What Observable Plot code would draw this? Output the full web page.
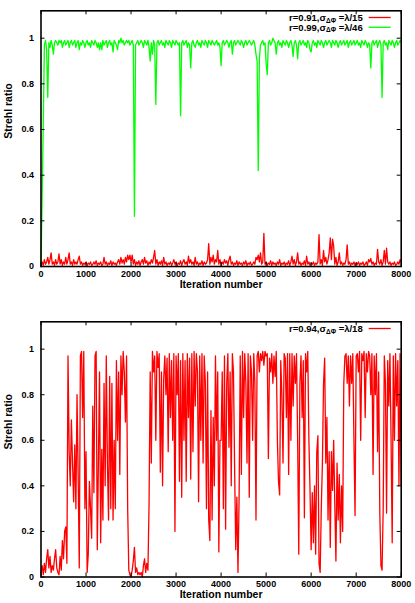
<!DOCTYPE html>
<html><head><meta charset="utf-8">
<script src="https://cdn.jsdelivr.net/npm/d3@7"></script>
<script src="https://cdn.jsdelivr.net/npm/@observablehq/plot@0.6"></script>
<style>
body{margin:0;background:#fff}
#chart{width:415px}
#chart svg{display:block}
</style>
</head><body><div id="chart"></div>
<script>
// Iterations are sampled every 25 steps from 0 to 8000
const step = 25;
const xTicks = [0, 1000, 2000, 3000, 4000, 5000, 6000, 7000, 8000];
const yTicks = [0, 0.2, 0.4, 0.6, 0.8, 1];

// Top panel, r=0.91 (red)
const strehlR091 = [
0.0,0.02,0.005,0.03,0.01,0.02,0.04,0.01,0.03,0.06,0.01,0.02,0.005,0.03,0.01,0.02,0.055,0.01,0.03,0.005,0.02,0.01,0.04,0.01,0.03,0.06,0.01,0.02,0.005,0.03,0.01,0.02,0.01,0.03,0.045,0.01,0.02,0.005,0.015,0.01,
0.02,0.005,0.015,0.01,0.02,0.005,0.01,0.02,0.01,0.025,0.005,0.015,0.01,0.02,0.005,0.01,0.04,0.01,0.02,0.005,0.015,0.01,0.025,0.005,0.02,0.01,0.015,0.005,0.02,0.03,0.01,0.04,0.015,0.03,0.01,0.04,0.02,0.05,0.03,0.05,
0.02,0.05,0.01,0.03,0.005,0.02,0.01,0.025,0.005,0.02,0.03,0.01,0.04,0.015,0.025,0.005,0.02,0.01,0.03,0.015,0.04,0.07,0.01,0.03,0.005,0.02,0.01,0.025,0.005,0.04,0.01,0.02,0.005,0.015,0.01,0.02,0.005,0.015,0.03,0.01,
0.02,0.005,0.015,0.01,0.025,0.005,0.02,0.03,0.01,0.02,0.005,0.045,0.015,0.03,0.01,0.02,0.005,0.04,0.01,0.02,0.005,0.015,0.01,0.025,0.005,0.02,0.01,0.015,0.03,0.1,0.01,0.04,0.02,0.05,0.01,0.03,0.02,0.07,0.01,0.03,
0.005,0.02,0.01,0.03,0.015,0.025,0.005,0.03,0.045,0.01,0.02,0.005,0.015,0.01,0.025,0.005,0.02,0.01,0.015,0.005,0.02,0.01,0.025,0.005,0.015,0.01,0.02,0.005,0.01,0.02,0.01,0.04,0.03,0.05,0.02,0.06,0.01,0.02,0.145,0.01,
0.02,0.005,0.015,0.01,0.025,0.005,0.02,0.01,0.015,0.005,0.02,0.01,0.03,0.005,0.015,0.01,0.02,0.005,0.015,0.01,0.025,0.005,0.02,0.045,0.01,0.03,0.005,0.02,0.06,0.01,0.02,0.005,0.015,0.01,0.025,0.005,0.045,0.01,0.02,0.005,
0.015,0.01,0.02,0.005,0.015,0.01,0.02,0.14,0.01,0.03,0.005,0.07,0.02,0.04,0.01,0.03,0.06,0.125,0.03,0.12,0.09,0.01,0.04,0.005,0.02,0.06,0.01,0.02,0.005,0.015,0.01,0.03,0.095,0.01,0.02,0.005,0.015,0.01,0.02,0.005,
0.015,0.01,0.02,0.005,0.015,0.01,0.02,0.005,0.01,0.02,0.005,0.03,0.02,0.035,0.01,0.02,0.005,0.015,0.01,0.075,0.02,0.01,0.03,0.005,0.02,0.07,0.01,0.08,0.02,0.01,0.02,0.005,0.015,0.01,0.02,0.005,0.01,0.02,0.01,0.03,0.02
];

// Top panel, r=0.99 (green)
const strehlR099 = [
0.0,0.3,0.62,0.97,0.99,0.95,0.74,0.98,0.96,0.99,0.97,0.93,0.98,0.99,0.98,0.97,0.99,0.98,0.99,0.96,0.98,0.99,0.97,0.98,0.99,0.96,0.98,0.99,0.97,0.98,0.99,0.96,0.98,0.99,0.95,0.98,0.97,0.99,0.98,0.96,
0.98,0.99,0.97,0.98,0.96,0.99,0.98,0.97,0.99,0.98,0.96,0.98,0.95,0.98,0.95,0.99,0.97,0.98,0.99,0.96,0.98,0.99,0.97,0.98,0.94,0.99,0.98,0.97,0.95,0.99,0.98,1.0,0.98,0.99,0.97,0.98,0.99,0.98,0.99,0.97,
0.98,0.99,0.97,0.22,0.97,0.98,0.99,0.97,0.98,0.99,0.98,0.96,0.99,0.98,0.97,0.99,0.96,0.9,0.98,0.93,0.99,0.97,0.71,0.98,0.99,0.97,0.98,0.99,0.97,0.98,0.96,0.99,0.98,0.97,0.99,0.98,0.96,0.99,0.98,0.97,
0.99,0.98,0.97,0.98,0.66,0.98,0.99,0.97,0.98,0.99,0.96,0.98,0.97,0.87,0.98,0.99,0.97,0.96,0.98,0.99,0.97,0.98,0.96,0.99,0.98,0.97,0.99,0.98,0.96,0.99,0.98,0.97,0.99,0.98,0.97,0.98,0.99,0.97,0.98,0.96,
0.88,0.98,0.99,0.97,0.98,0.99,0.98,0.96,0.98,0.99,0.93,0.98,0.99,0.97,0.98,0.99,0.98,0.97,0.99,0.98,0.96,0.98,0.99,0.97,0.98,0.99,0.98,0.97,0.98,0.99,0.97,0.93,0.9,0.42,0.91,0.97,0.98,0.99,0.97,0.98,
0.89,0.84,0.98,0.99,0.97,0.98,1.0,0.99,0.98,0.93,0.98,0.99,0.97,0.98,0.96,0.99,0.98,0.97,0.99,0.98,0.96,0.98,0.99,0.97,0.92,0.98,0.99,0.97,0.91,0.98,0.99,0.97,0.98,0.99,0.97,0.98,0.96,0.99,0.98,0.95,
0.94,0.98,0.99,0.97,0.98,0.96,0.99,0.98,0.97,0.99,0.98,0.96,0.98,0.99,0.97,0.98,0.99,0.98,0.96,0.99,0.98,0.97,0.99,0.98,0.96,0.98,0.99,0.97,0.98,0.99,0.97,0.98,0.99,0.96,0.98,0.99,0.97,0.98,0.99,0.97,
0.98,0.99,0.97,0.98,0.96,0.99,0.98,0.97,0.99,0.98,0.96,0.98,0.97,0.87,0.98,0.99,0.97,0.98,0.99,0.96,0.98,0.99,0.97,0.74,0.98,0.99,0.97,0.98,0.95,0.99,0.98,0.97,0.99,0.98,0.96,0.98,0.99,0.97,0.98,0.99,0.98
];

// Bottom panel, r=0.94 (red)
const strehlR094 = [
0.02,0.05,0.01,0.06,0.02,0.08,0.12,0.04,0.09,0.02,0.05,0.03,0.08,0.12,0.04,0.02,0.01,0.09,0.03,0.16,0.08,0.2,0.22,0.06,0.97,0.55,0.4,0.69,0.5,0.33,0.58,0.3,0.8,0.45,0.04,0.97,0.99,0.7,0.99,0.3,
0.55,0.02,0.1,0.42,0.3,0.17,0.75,0.37,0.97,0.99,0.12,0.5,0.9,0.15,0.56,0.25,0.85,0.4,0.97,0.5,0.25,0.88,0.3,0.85,0.25,0.6,0.3,0.95,0.6,0.9,0.45,0.97,0.8,0.99,0.9,0.68,0.97,0.3,0.03,0.01,
0.0,0.03,0.07,0.13,0.02,0.04,0.01,0.02,0.01,0.02,0.0,0.05,0.08,0.02,0.06,0.03,0.32,0.9,0.5,0.99,0.9,0.97,0.6,0.99,0.92,0.98,0.46,0.9,0.4,0.87,0.97,0.8,0.96,0.55,0.98,0.7,0.95,0.6,0.98,0.2,
0.97,0.8,0.98,0.42,0.95,0.35,0.98,0.6,0.95,0.42,0.98,0.7,0.96,0.43,0.98,0.55,0.99,0.75,0.98,0.9,0.33,0.97,0.6,0.98,0.5,0.97,0.85,0.3,0.9,0.25,0.16,0.73,0.25,0.7,0.4,0.97,0.6,0.9,0.11,0.6,
0.6,0.9,0.3,0.97,0.21,0.85,0.98,0.57,0.9,0.4,0.98,0.9,0.48,0.12,0.35,0.02,0.35,0.97,0.45,0.99,0.7,0.98,0.85,0.5,0.98,0.35,0.97,0.9,0.6,0.98,0.85,0.25,0.97,0.99,0.9,0.98,0.95,0.99,0.93,0.99,
0.97,0.98,0.52,0.96,0.9,0.98,0.85,0.97,0.88,0.99,0.6,0.42,0.36,0.95,0.8,0.5,0.98,0.96,0.7,0.98,0.45,0.98,0.6,0.98,0.75,0.97,0.85,0.98,0.6,0.1,0.85,0.97,0.7,0.95,0.26,0.98,0.9,0.99,0.6,0.38,
0.12,0.37,0.15,0.4,0.1,0.55,0.62,0.06,0.02,0.3,0.5,0.85,0.96,0.5,0.7,0.25,0.55,0.13,0.55,0.38,0.6,0.32,0.07,0.5,0.25,0.45,0.15,0.4,0.2,0.85,0.97,0.98,0.85,0.97,0.75,0.97,0.85,0.98,0.6,0.27,
0.97,0.98,0.9,0.99,0.6,0.98,0.95,0.99,0.7,0.98,0.9,0.99,0.97,0.8,0.98,0.45,0.97,0.8,0.98,0.55,0.9,0.28,0.05,0.03,0.3,0.97,0.85,0.28,0.95,0.75,0.98,0.6,0.15,0.97,0.6,0.98,0.75,0.95,0.4,0.98,0.4
];

const topSeries = [
  {head: "r=0.91,σ", sub: "ΔΦ", tail: " =λ/15", color: "#ff0000", values: strehlR091},
  {head: "r=0.99,σ", sub: "ΔΦ", tail: " =λ/46", color: "#00ff00", values: strehlR099}
];
const bottomSeries = [
  {head: "r=0.94,σ", sub: "ΔΦ", tail: " =λ/18", color: "#ff0000", values: strehlR094}
];

const FONT = "'Liberation Sans', Arial, Helvetica, sans-serif";

function panel(series, height, mt, mb) {
  const W = 415, ml = 40.5, mr = 14.3;
  const fw = W - ml - mr, fh = height - mt - mb;
  const marks = [];
  for (const s of series) {
    marks.push(Plot.line(s.values, {x: (d, i) => i * step, y: d => d, stroke: s.color, strokeWidth: 1.3}));
  }
  marks.push(
    Plot.ruleX(xTicks, {x: d => d, insetTop: fh - 4, stroke: "black", strokeWidth: 1}),
    Plot.ruleX(xTicks, {x: d => d, insetBottom: fh - 4, stroke: "black", strokeWidth: 1}),
    Plot.ruleY(yTicks, {y: d => d, insetRight: fw - 4, stroke: "black", strokeWidth: 1}),
    Plot.ruleY(yTicks, {y: d => d, insetLeft: fw - 4, stroke: "black", strokeWidth: 1}),
    Plot.frame({stroke: "black", strokeWidth: 1.6}),
    Plot.axisX({ticks: xTicks, tickSize: 0, tickPadding: 4, tickFormat: d => String(d), label: null}),
    Plot.axisY({ticks: yTicks, tickSize: 0, tickPadding: 7, tickFormat: d => String(d), label: null}),
    Plot.text(["Iteration number"], {text: d => d, frameAnchor: "bottom", dy: 21, fontSize: 10.5}),
    Plot.text(["Strehl ratio"], {text: d => d, frameAnchor: "left", dx: -32.5, rotate: -90, fontSize: 10.5})
  );
  const svg = Plot.plot({
    width: W, height,
    marginLeft: ml, marginRight: mr, marginTop: mt, marginBottom: mb,
    style: `font: bold 9px ${FONT}; background: white; color: black; overflow: visible;`,
    x: {domain: [0, 8000]},
    y: {domain: [0, 1.12]},
    marks
  });
  const g = d3.select(svg).append("g")
    .attr("font-family", FONT).attr("font-weight", "bold").attr("font-size", 9.5);
  series.forEach((s, k) => {
    const yb = mt + 10.5 + k * 9.8;
    const t = g.append("text").attr("x", ml + fw - 38).attr("y", yb).attr("text-anchor", "end").attr("fill", "black");
    t.append("tspan").text(s.head);
    t.append("tspan").attr("font-size", 6.5).attr("dy", 1.8).text(s.sub);
    t.append("tspan").attr("dy", -1.8).text(s.tail);
    g.append("line")
      .attr("x1", ml + fw - 32).attr("x2", ml + fw - 10)
      .attr("y1", yb - 3.3).attr("y2", yb - 3.3)
      .attr("stroke", s.color).attr("stroke-width", 1.3);
  });
  return svg;
}

const root = document.getElementById("chart");
root.appendChild(panel(topSeries, 300, 10.3, 34));
root.appendChild(panel(bottomSeries, 303, 21.3, 26.5));
</script>
</body></html>
